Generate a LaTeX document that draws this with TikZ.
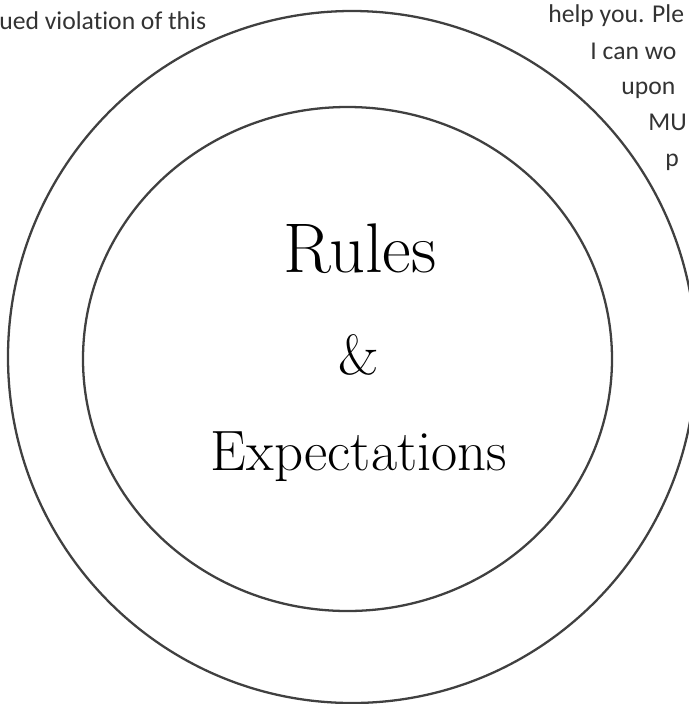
\documentclass[tikz,border=0pt]{standalone}
\usepackage{fontspec}
\newfontfamily\notefont[Ligatures=NoCommon]{Carlito}
\usetikzlibrary{positioning}
\tikzset{
  ring/.style={draw=black!75,line width=1.3pt},
  note/.style={font=\notefont\fontsize{14.6}{17}\selectfont,text=black!80,
    inner sep=0pt,anchor=base west},
  headline/.style={inner sep=0pt,anchor=base,text=black},
}
\begin{document}
\begin{tikzpicture}[x=0.02cm,y=-0.02cm]
  \useasboundingbox (0,0) rectangle (689,704);
  \clip (0,0) rectangle (689,704);
  \draw[ring] (352,357) ellipse [x radius=344,y radius=346];
  \draw[ring] (347.5,359) ellipse [x radius=264.5,y radius=252];
  \node[headline,font=\fontsize{40}{48}\selectfont] (rules) at (360,272) {Rules};
  \node[headline,font=\fontsize{32}{38}\selectfont] (amp) at (359,374) {\&};
  \node[headline,font=\fontsize{32.4}{39}\selectfont] (expect) at (359,470) {Expectations};
  \node[note] (left) at (-1,29) {ued violation of this};
  \node[note] (r1) at (548,22) {help you. Ple};
  \node[note] (r2) at (590,59) {I can wo};
  \node[note] (r3) at (621,94) {upon};
  \node[note] (r4) at (648,130) {MU};
  \node[note] (r5) at (665,166) {p};
\end{tikzpicture}
\end{document}
